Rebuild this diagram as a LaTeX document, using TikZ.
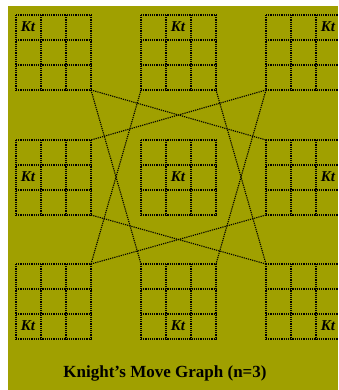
\documentclass[tikz,border=0pt]{standalone}
\usepackage{fontspec}
\setmainfont{Liberation Serif}
\begin{document}
\begin{tikzpicture}[x=1pt,y=-1pt,
  gridline/.style={black,line width=1.1pt,dash pattern=on 1.2pt off 1pt},
  edgeline/.style={black,line width=1.1pt,dash pattern=on 1.2pt off 1pt},
  ktlabel/.style={font=\fontsize{15}{15}\selectfont\bfseries\itshape,inner sep=0pt},
  titlelabel/.style={font=\fontsize{17}{18}\selectfont\bfseries,inner sep=0pt}]
\useasboundingbox (0,0) rectangle (338,390);
\fill[white] (0,0) rectangle (338,390);
\fill[fill={rgb,255:red,160;green,160;blue,0}] (8,6) rectangle (338,390);
\begin{scope}
\clip (8,6) rectangle (338,390);
\foreach \ox/\oy/\kc/\kr/\nm in {16/15/0/0/tl,141/15/1/0/tm,266/15/2/0/tr,
                                16/140/0/1/ml,141/140/1/1/mm,266/140/2/1/mr,
                                16/264/0/2/bl,141/264/1/2/bm,266/264/2/2/br}{
  \foreach \k in {0,1,2,3}{
    \draw[gridline] ({\ox+25*\k},\oy) -- ({\ox+25*\k},{\oy+75});
    \draw[gridline] (\ox,{\oy+25*\k}) -- ({\ox+75},{\oy+25*\k});
  }
  \coordinate (\nm-tl) at (\ox,\oy);
  \coordinate (\nm-tr) at ({\ox+75},\oy);
  \coordinate (\nm-bl) at (\ox,{\oy+75});
  \coordinate (\nm-br) at ({\ox+75},{\oy+75});
  \node[ktlabel] (\nm-kt) at ({\ox+12+25*\kc},{\oy+12+25*\kr}) {Kt};
}
\draw[edgeline] (tl-br) -- (mr-tl);
\draw[edgeline] (tl-br) -- (bm-tl);
\draw[edgeline] (tr-bl) -- (ml-tr);
\draw[edgeline] (tr-bl) -- (bm-tr);
\draw[edgeline] (bl-tr) -- (tm-bl);
\draw[edgeline] (bl-tr) -- (mr-bl);
\draw[edgeline] (br-tl) -- (tm-br);
\draw[edgeline] (br-tl) -- (ml-br);
\end{scope}
\node[titlelabel] (title) at (165,373) {Knight's Move Graph (n=3)};
\end{tikzpicture}
\end{document}
